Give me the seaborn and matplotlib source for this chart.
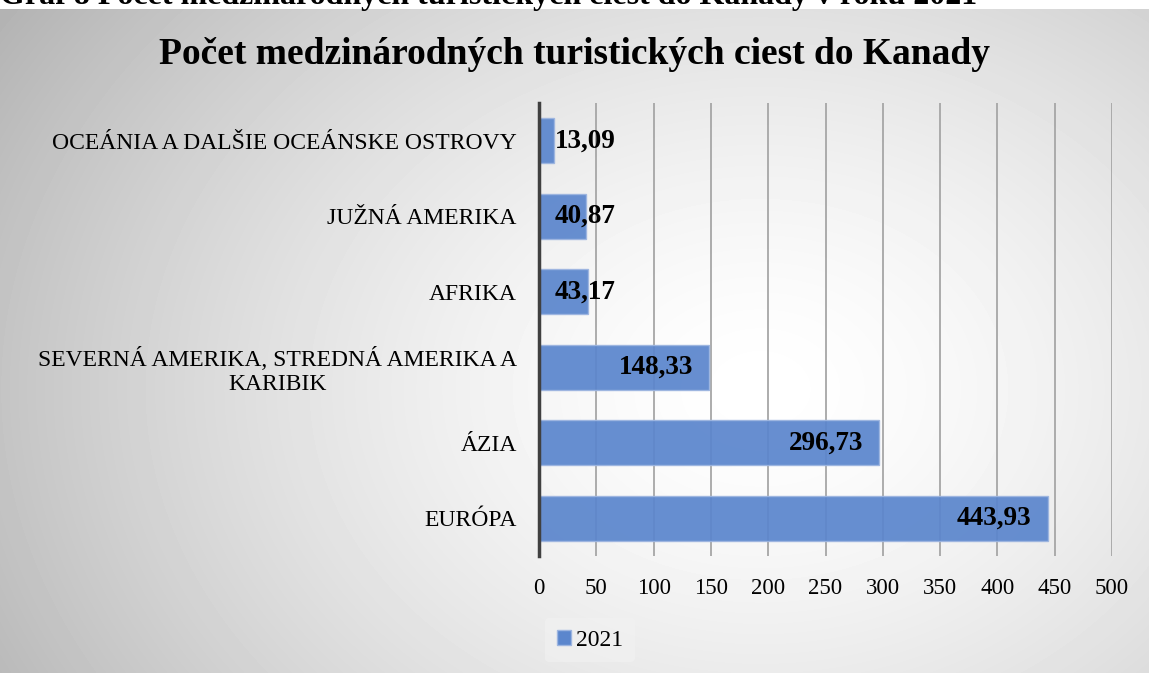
import numpy as np
import pandas as pd
import seaborn as sns
import matplotlib.pyplot as plt
from matplotlib.patches import Patch

# data (top to bottom as drawn)
categories = [
    "OCEÁNIA A DALŠIE OCEÁNSKE OSTROVY",
    "JUŽNÁ AMERIKA",
    "AFRIKA",
    "SEVERNÁ AMERIKA, STREDNÁ AMERIKA A\nKARIBIK",
    "ÁZIA",
    "EURÓPA",
]
values = [13.09, 40.87, 43.17, 148.33, 296.73, 443.93]
xticks = [0, 50, 100, 150, 200, 250, 300, 350, 400, 450, 500]
series_name = "2021"

bar_color = "#5B86CD"

sns.set_theme(style="white")
plt.rcParams["font.family"] = ["Liberation Serif", "DejaVu Serif"]
plt.rcParams["text.color"] = "black"
plt.rcParams["xtick.color"] = "black"
plt.rcParams["ytick.color"] = "black"

df = pd.DataFrame({"region": categories, "value": values})

fig = plt.figure(figsize=(11.49, 6.73), dpi=100)

# radial gradient background of the chart area
bg = fig.add_axes([0, 0, 1, 1 - 9 / 673], zorder=0)
yy, xx = np.mgrid[0:664, 0:1149]
r = np.sqrt(((xx - 760) / 780.0) ** 2 + ((yy - 380) / 600.0) ** 2)
shade = 1 - 0.24 * np.clip(r, 0, 1.2) ** 1.5
bg.imshow(shade, cmap="gray", vmin=0, vmax=1, aspect="auto", extent=[0, 1, 0, 1])
bg.set_axis_off()

# caption cut off at the top of the picture
fig.text(0.0, 1 - 4 / 673, "Graf 8 Počet medzinárodných turistických ciest do Kanady v roku 2021",
         fontsize=23, fontweight="bold", va="baseline", ha="left")

ax = fig.add_axes([539 / 1149, 1 - 556 / 673, (1112 - 539) / 1149, (556 - 103) / 673], zorder=1)
ax.patch.set_alpha(0)

sns.barplot(data=df, x="value", y="region", orient="h", color=bar_color,
            width=0.6, saturation=1, ax=ax, edgecolor="#9DB5E0", linewidth=1, alpha=0.93)

ax.set_xlim(0, 500)
ax.set_xticks(xticks)
ax.set_xticklabels([str(t) for t in xticks], fontsize=16.5)
ax.set_xlabel("")
ax.set_ylabel("")
ax.tick_params(axis="y", labelsize=17, pad=16, length=0)
ax.tick_params(axis="x", pad=16, length=0)
for lbl in ax.get_yticklabels():
    lbl.set_horizontalalignment("right")
    lbl.set_multialignment("center")

ax.grid(axis="x", color="#A6A6A6", linewidth=1.3)
ax.set_axisbelow(True)
for s in ["top", "right", "bottom"]:
    ax.spines[s].set_visible(False)
ax.spines["left"].set_color("#404040")
ax.spines["left"].set_linewidth(2.5)

# value labels: inside end, or from the axis when the bar is too short
px_per_unit = (1112 - 539) / 500
for i, v in enumerate(values):
    txt = f"{v:.2f}".replace(".", ",")
    if v * px_per_unit > 110:
        ax.annotate(txt, (v, i), xytext=(-16, 0), textcoords="offset pixels",
                    ha="right", va="center", fontsize=19.5, fontweight="bold")
    else:
        ax.annotate(txt, (0, i), xytext=(16, 0), textcoords="offset pixels",
                    ha="left", va="center", fontsize=19.5, fontweight="bold")

fig.text(0.5, 1 - 55 / 673, "Počet medzinárodných turistických ciest do Kanady",
         ha="center", va="center", fontsize=27, fontweight="bold")

fig.legend(handles=[Patch(facecolor=bar_color, edgecolor="#9DB5E0")], labels=[series_name],
           loc="center", bbox_to_anchor=(590 / 1149, 1 - 640 / 673), fontsize=17,
           frameon=True, facecolor="#F2F2F2", edgecolor="none", framealpha=0.6,
           handlelength=0.6, handleheight=0.6, handletextpad=0.2, borderpad=0.5)

fig.savefig("out.png", dpi=100)
